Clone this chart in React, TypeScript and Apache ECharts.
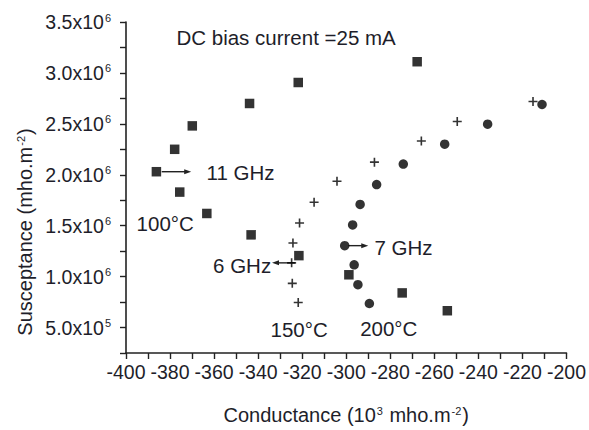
import React, { useEffect, useRef } from "react";
import * as echarts from "echarts";

// 100°C (squares)
const g100 = [-267.8, -321.8, -343.9, -369.9, -377.9, -386.2, -375.6, -363.3, -343.2, -321.5, -298.8, -274.6, -254.1];
const b100 = [3.11e6, 2.906e6, 2.7e6, 2.48e6, 2.25e6, 2.03e6, 1.83e6, 1.62e6, 1.41e6, 1.206e6, 1.018e6, 0.84e6, 0.665e6];
// 150°C (plus)
const g150 = [-215.2, -249.6, -265.9, -287.2, -304.2, -314.6, -321.2, -324.2, -324.8, -324.5, -321.8];
const b150 = [2.72e6, 2.523e6, 2.332e6, 2.124e6, 1.936e6, 1.73e6, 1.527e6, 1.33e6, 1.135e6, 0.934e6, 0.746e6];
// 200°C (circles)
const g200 = [-211.1, -235.8, -255.3, -274.1, -286.2, -293.7, -297.1, -300.7, -296.4, -294.7, -289.5];
const b200 = [2.69e6, 2.497e6, 2.3e6, 2.105e6, 1.904e6, 1.709e6, 1.508e6, 1.304e6, 1.116e6, 0.921e6, 0.736e6];

const xMin = -400;
const xMax = -200;
const yMin = 0.25e6;
const yMax = 3.5e6;

const FONT = "'Liberation Sans', Arial, sans-serif";
const TXT = "#1e1e2a";
const FS = 19.5;
const FA = 20.5;

const zip = (xs: number[], ys: number[]) => xs.map((x, i) => [x, ys[i]]);

const PLUS = "path://M4.1,0h1.8v4.1h4.1v1.8h-4.1v4.1h-1.8v-4.1h-4.1v-1.8h4.1z";

export default function App() {
  const ref = useRef<HTMLDivElement>(null);
  useEffect(() => {
    if (!ref.current) return;
    const chart = echarts.init(ref.current, null, { renderer: "svg" });
    const option: any = {
      animation: false,
      backgroundColor: "#fff",
      grid: { left: 126, right: 20, top: 22, bottom: 76, containLabel: false },
      xAxis: {
        type: "value",
        min: xMin,
        max: xMax,
        interval: 10,
        axisLine: { show: true, onZero: false, lineStyle: { color: "#222", width: 1.6 } },
        axisTick: { show: true, length: 6, lineStyle: { color: "#222", width: 1.4 } },
        splitLine: { show: false },
        axisLabel: {
          margin: 9,
          fontFamily: FONT,
          fontSize: FS,
          color: TXT,
          formatter: (v: number) => (Math.round(v) % 20 === 0 ? String(Math.round(v)) : ""),
        },
        name: "Conductance (10{sup|3} mho.m{sup|-2})",
        nameLocation: "middle",
        nameGap: 52,
        nameTextStyle: {
          fontFamily: FONT,
          fontSize: 20,
          color: TXT,
          rich: {
            sup: { fontFamily: FONT, fontSize: 11, color: TXT, verticalAlign: "top", padding: [0, 1, 8, 1] },
          },
        },
      },
      yAxis: {
        type: "value",
        min: yMin,
        max: yMax,
        interval: 0.25e6,
        axisLine: { show: true, onZero: false, lineStyle: { color: "#222", width: 1.6 } },
        axisTick: { show: true, length: 6, lineStyle: { color: "#222", width: 1.4 } },
        splitLine: { show: false },
        axisLabel: {
          margin: 15,
          fontFamily: FONT,
          fontSize: FS,
          color: TXT,
          formatter: (v: number) => {
            const r = Math.round(v / 0.25e6);
            if (r % 2 !== 0) return "";
            const e = v >= 1e6 - 1 ? 6 : 5;
            const m = v / Math.pow(10, e);
            return `${m.toFixed(1)}x10{sup|${e}}`;
          },
          rich: {
            sup: { fontFamily: FONT, fontSize: 11, color: TXT, verticalAlign: "top", padding: [0, 0, 9, 1] },
          },
        },
      },
      series: [
        {
          name: "100°C",
          type: "scatter",
          symbol: "rect",
          symbolSize: 9.5,
          itemStyle: { color: "#000" },
          data: zip(g100, b100),
        },
        {
          name: "150°C",
          type: "scatter",
          symbol: PLUS,
          symbolSize: 9,
          itemStyle: { color: "#000" },
          data: zip(g150, b150),
        },
        {
          name: "200°C",
          type: "scatter",
          symbol: "circle",
          symbolSize: 9.5,
          itemStyle: { color: "#000" },
          data: zip(g200, b200),
        },
      ],
    };
    chart.setOption(option);

    const p = (x: number, y: number) => chart.convertToPixel({ gridIndex: 0 }, [x, y]) as number[];
    const text = (x: number, y: number, t: string, align: string) => {
      const [px, py] = p(x, y);
      return {
        type: "text",
        x: px,
        y: py,
        style: {
          text: t,
          fontFamily: FONT,
          fontSize: FA,
          fill: TXT,
          align,
          verticalAlign: "middle",
        },
      };
    };
    const arrow = (x1: number, x2: number, y: number) => {
      const [a, py] = p(x1, y);
      const [b] = p(x2, y);
      const dir = b > a ? 1 : -1;
      const hl = 7;
      const hw = 2.5;
      return [
        {
          type: "line",
          shape: { x1: a, y1: py, x2: b - dir * hl * 0.8, y2: py },
          style: { stroke: "#222", lineWidth: 1.4 },
        },
        {
          type: "polygon",
          shape: { points: [[b, py], [b - dir * hl, py - hw], [b - dir * hl, py + hw]] },
          style: { fill: "#222" },
        },
      ];
    };

    // Y axis name (rotated)
    const yName = {
      type: "text",
      x: 25,
      y: 232,
      rotation: Math.PI / 2,
      style: {
        text: "Susceptance (mho.m{sup|-2})",
        fontFamily: FONT,
        fontSize: 20,
        fill: TXT,
        align: "center",
        verticalAlign: "middle",
        rich: {
          sup: { fontFamily: FONT, fontSize: 11, fill: TXT, verticalAlign: "top", padding: [0, 1, 8, 1] },
        },
      },
    };

    chart.setOption({
      graphic: [
        text(-377.1, 3.343e6, "DC bias current =25 mA", "left"),
        text(-363.4, 2.02e6, "11 GHz", "left"),
        ...arrow(-383.8, -370.4, 2.03e6),
        text(-382.2, 1.524e6, "100°C", "center"),
        ...arrow(-323.3, -333.7, 1.135e6),
        text(-334.1, 1.109e6, "6 GHz", "right"),
        ...arrow(-299, -290, 1.304e6),
        text(-287.2, 1.281e6, "7 GHz", "left"),
        text(-321.4, 0.477e6, "150°C", "center"),
        text(-280.7, 0.493e6, "200°C", "center"),
        yName,
      ],
    });

    return () => chart.dispose();
  }, []);
  return (
    <div
      ref={ref}
      style={{ position: "fixed", left: 0, top: 0, width: 589, height: 430, background: "#fff" }}
    />
  );
}
